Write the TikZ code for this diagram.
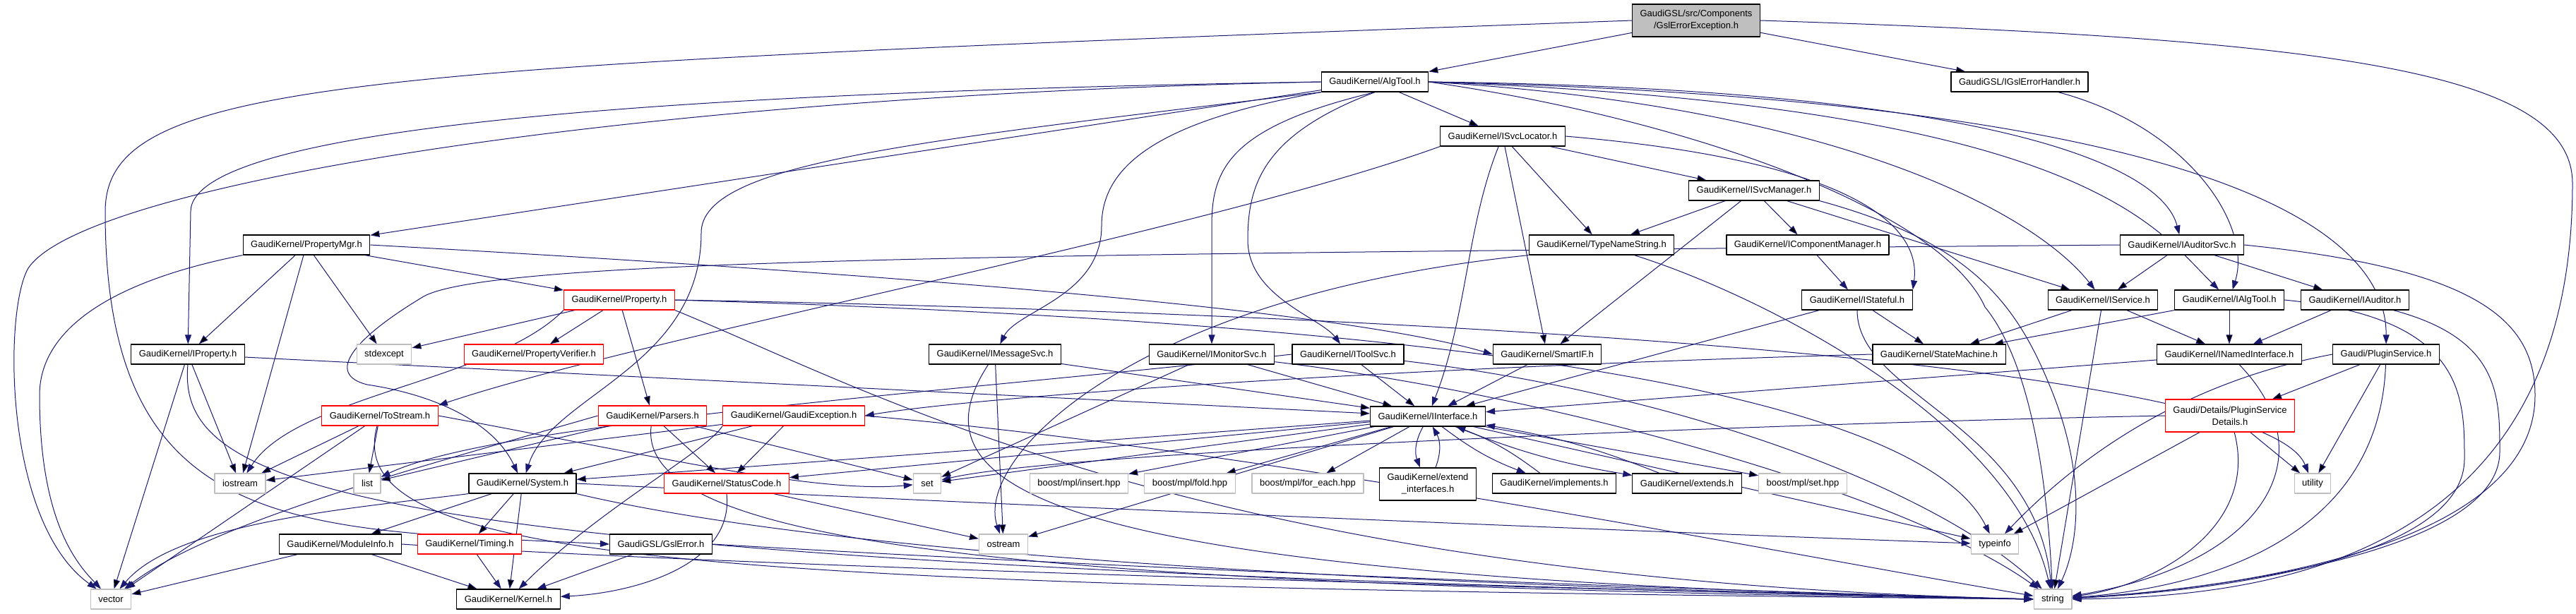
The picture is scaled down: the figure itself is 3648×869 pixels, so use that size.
\documentclass[tikz,border=0pt]{standalone}
\usepackage{fontspec}
\setmainfont{Liberation Sans}
\usetikzlibrary{arrows.meta,backgrounds}
\definecolor{edgeblue}{HTML}{191970}
\definecolor{boxgray}{HTML}{BFBFBF}
\begin{document}
\begin{tikzpicture}[x=.5pt,y=-.5pt,line join=round,font=\fontsize{6.5}{8.5}\selectfont,
  hfile/.style={draw=black,fill=white,line width=.6pt,minimum height=14pt,inner xsep=5.5pt,inner ysep=0pt},
  hfiletwo/.style={hfile,minimum height=23pt,align=center},
  redfile/.style={hfile,draw=red},
  sysfile/.style={hfile,draw=boxgray},
  dep/.style={draw=edgeblue,line width=.5pt,-{Triangle[length=6.5pt,width=4.5pt]}}]
\useasboundingbox (0,0) rectangle (3648,869);
% rows of header files
\node[hfiletwo,fill=boxgray] (top) at (2402,29) {GaudiGSL/src/Components\\/GslErrorException.h};
\node[hfile] (algtool) at (1947,116) {GaudiKernel/AlgTool.h};
\node[hfile] (gslhandler) at (2860,116) {GaudiGSL/IGslErrorHandler.h};
\node[hfile] (svcloc) at (2128,193) {GaudiKernel/ISvcLocator.h};
\node[hfile] (svcmgr) at (2484,270) {GaudiKernel/ISvcManager.h};
\node[hfile] (propmgr) at (434,347) {GaudiKernel/PropertyMgr.h};
\node[hfile] (typename) at (2268,347) {GaudiKernel/TypeNameString.h};
\node[hfile] (compmgr) at (2560,347) {GaudiKernel/IComponentManager.h};
\node[hfile] (audsvc) at (3090,347) {GaudiKernel/IAuditorSvc.h};
\node[redfile] (property) at (877,425) {GaudiKernel/Property.h};
\node[hfile] (stateful) at (2630,425) {GaudiKernel/IStateful.h};
\node[hfile] (iservice) at (2978,425) {GaudiKernel/IService.h};
\node[hfile] (ialgtool) at (3157,425) {GaudiKernel/IAlgTool.h};
\node[hfile] (iauditor) at (3335,425) {GaudiKernel/IAuditor.h};
\node[hfile] (iproperty) at (266,502) {GaudiKernel/IProperty.h};
\node[sysfile] (stdexcept) at (544,502) {stdexcept};
\node[redfile] (verifier) at (756,502) {GaudiKernel/PropertyVerifier.h};
\node[hfile] (msgsvc) at (1409,502) {GaudiKernel/IMessageSvc.h};
\node[hfile] (monsvc) at (1716,502) {GaudiKernel/IMonitorSvc.h};
\node[hfile] (toolsvc) at (1909,502) {GaudiKernel/IToolSvc.h};
\node[hfile] (smartif) at (2191,502) {GaudiKernel/SmartIF.h};
\node[hfile] (statemach) at (2746,502) {GaudiKernel/StateMachine.h};
\node[hfile] (named) at (3157,502) {GaudiKernel/INamedInterface.h};
\node[hfile] (plugin) at (3379,502) {Gaudi/PluginService.h};
\node[redfile] (tostream) at (538,589) {GaudiKernel/ToStream.h};
\node[redfile] (parsers) at (924,589) {GaudiKernel/Parsers.h};
\node[redfile] (gexcept) at (1124,589) {GaudiKernel/GaudiException.h};
\node[hfile] (iiface) at (2022,590) {GaudiKernel/IInterface.h};
\node[hfiletwo,draw=red] (details) at (3158,589) {Gaudi/Details/PluginService\\Details.h};
\node[sysfile] (iostream) at (340,685) {iostream};
\node[sysfile] (list) at (520,685) {list};
\node[hfile] (system) at (740,685) {GaudiKernel/System.h};
\node[redfile] (status) at (1029,685) {GaudiKernel/StatusCode.h};
\node[sysfile] (set) at (1313,685) {set};
\node[sysfile] (insert) at (1528,685) {boost/mpl/insert.hpp};
\node[sysfile] (fold) at (1685,685) {boost/mpl/fold.hpp};
\node[sysfile] (foreach) at (1852,685) {boost/mpl/for\_each.hpp};
\node[hfiletwo] (extendif) at (2022,686) {GaudiKernel/extend\\\_interfaces.h};
\node[hfile] (implements) at (2201,685) {GaudiKernel/implements.h};
\node[hfile] (extends) at (2389,685) {GaudiKernel/extends.h};
\node[sysfile] (mplset) at (2553,685) {boost/mpl/set.hpp};
\node[sysfile] (utility) at (3275,685) {utility};
\node[hfile] (modinfo) at (482,771) {GaudiKernel/ModuleInfo.h};
\node[redfile] (timing) at (665,771) {GaudiKernel/Timing.h};
\node[hfile] (gslerror) at (936,771) {GaudiGSL/GslError.h};
\node[sysfile] (ostream) at (1421,771) {ostream};
\node[sysfile] (typeinfo) at (2825,771) {typeinfo};
\node[sysfile] (vector) at (157,849) {vector};
\node[hfile] (kernel) at (720,849) {GaudiKernel/Kernel.h};
\node[sysfile] (string) at (2907,849) {string};
\begin{pgfonlayer}{background}
% top file
\draw[dep] (top) edge (algtool) edge (gslhandler);
\draw[dep] (top.west) .. controls (500,95) and (149,110) .. (149,300) .. controls (149,760) and (420,750) .. (gslerror.west);
\draw[dep] (top.east) .. controls (3300,55) and (3643,100) .. (3643,260) .. controls (3643,800) and (3200,845) .. (string.east);
% AlgTool.h
\draw[dep] (algtool) edge (svcloc) edge (propmgr);
\draw[dep] (algtool.west) .. controls (1000,130) and (270,175) .. (270,300) -- (iproperty);
\draw[dep] (algtool.west) .. controls (900,135) and (120,260) .. (40,380) .. controls (5,440) and (5,740) .. (vector);
\draw[dep] (algtool.south west) .. controls (1300,200) and (993,230) .. (993,330) .. controls (993,520) and (780,560) .. (system);
\draw[dep] (algtool.south west) .. controls (1650,170) and (1560,230) .. (1560,320) .. controls (1560,420) and (1440,440) .. (msgsvc);
\draw[dep] (algtool.south) .. controls (1740,180) and (1716,240) .. (1716,320) -- (monsvc);
\draw[dep] (algtool.south) .. controls (1790,190) and (1767,260) .. (1767,340) .. controls (1767,420) and (1870,450) .. (toolsvc);
\draw[dep] (algtool.east) .. controls (2600,150) and (2880,300) .. (iservice);
\draw[dep] (algtool.east) .. controls (2800,125) and (3060,230) .. (audsvc);
\draw[dep] (algtool.east) .. controls (2950,150) and (3050,320) .. (ialgtool);
\draw[dep] (algtool.east) .. controls (3050,140) and (3380,300) .. (plugin);
\draw[dep] (algtool.east) .. controls (2400,170) and (2750,300) .. (2811,435) .. controls (2880,520) and (2900,700) .. (string);
\draw[dep] (gslhandler) .. controls (3100,180) and (3190,320) .. (ialgtool);
% ISvcLocator.h, ISvcManager.h
\draw[dep] (svcloc) edge (svcmgr) edge (typename) edge (smartif);
\draw[dep] (svcloc) .. controls (2077,320) and (2077,450) .. (iiface);
\draw[dep] (svcloc.east) .. controls (2650,230) and (2720,330) .. (stateful.north east);
\draw[dep] (svcloc.south west) .. controls (1700,330) and (900,480) .. (tostream.north east);
\draw[dep] (svcmgr) edge (compmgr) edge (typename) edge (smartif) edge (iservice);
\draw[dep] (svcmgr.south east) .. controls (2780,340) and (2850,420) .. (2900,540) .. controls (2960,680) and (2940,780) .. (string);
% PropertyMgr.h, TypeNameString.h
\draw[dep] (propmgr) edge (property) edge (iproperty) edge (iostream) edge (stdexcept);
\draw[dep] (propmgr.south west) .. controls (150,400) and (56,470) .. (56,560) .. controls (56,740) and (110,800) .. (vector);
\draw[dep] (propmgr.east) .. controls (1300,390) and (1900,440) .. (smartif.west);
\draw[dep] (typename.south west) .. controls (1600,420) and (1380,650) .. (ostream);
\draw[dep] (typename) .. controls (2500,420) and (2850,600) .. (string);
\draw[dep] (compmgr) -- (stateful);
% IAuditorSvc.h
\draw[dep] (audsvc) edge (iservice) edge (iauditor);
\draw[dep] (audsvc.west) .. controls (1500,360) and (700,365) .. (600,420) .. controls (500,480) and (460,530) .. (520,545) .. controls (620,560) and (700,600) .. (system);
\draw[dep] (audsvc.east) .. controls (3500,380) and (3590,450) .. (3590,560) .. controls (3590,780) and (3150,835) .. (string);
% Property.h
\draw[dep] (property) edge (verifier) edge (parsers) edge (stdexcept);
\draw[dep] (property.south west) .. controls (700,540) and (420,560) .. (iostream);
\draw[dep] (property.east) .. controls (1800,440) and (3200,500) .. (utility);
\draw[dep] (property.east) .. controls (1800,450) and (2700,520) .. (typeinfo);
\draw[dep] (property.south east) .. controls (1250,560) and (1700,820) .. (string.west);
% interfaces
\draw[dep] (stateful) edge (statemach) edge (iiface);
\draw[dep] (stateful.south) .. controls (2630,560) and (2880,600) .. (string);
\draw[dep] (iservice) edge (named) edge (statemach) edge (string);
\draw[dep] (ialgtool) edge (named) edge (statemach);
\draw[dep] (ialgtool.east) .. controls (3490,450) and (3490,560) .. (3490,650) .. controls (3490,800) and (3100,840) .. (string);
\draw[dep] (iauditor) -- (named);
\draw[dep] (iauditor) .. controls (3540,480) and (3540,560) .. (3540,640) .. controls (3540,790) and (3100,838) .. (string);
\draw[dep] (iproperty) edge (iostream) edge (vector) edge (iiface);
\draw[dep] (iproperty.south) .. controls (250,700) and (500,800) .. (string.west);
\draw[dep] (msgsvc) edge (iiface) edge (ostream);
\draw[dep] (msgsvc) .. controls (1280,700) and (1500,820) .. (string.west);
\draw[dep] (monsvc) edge (iiface) edge (set);
\draw[dep] (monsvc) .. controls (2200,560) and (2700,700) .. (string);
\draw[dep] (toolsvc) edge (iiface);
\draw[dep] (toolsvc) .. controls (2400,560) and (2750,700) .. (string);
\draw[dep] (toolsvc.west) .. controls (1300,560) and (700,600) .. (list);
\draw[dep] (smartif) -- (iiface);
\draw[dep] (statemach.west) .. controls (2000,520) and (1400,560) .. (gexcept.east);
\draw[dep] (named) -- (iiface);
\draw[dep] (named) .. controls (3300,650) and (3200,800) .. (string);
% PluginService
\draw[dep] (plugin) edge (details) edge (utility);
\draw[dep] (plugin) .. controls (3370,750) and (3150,830) .. (string);
\draw[dep] (plugin.west) .. controls (3100,540) and (2950,640) .. (typeinfo);
\draw[dep] (details) edge (utility) edge (typeinfo);
\draw[dep] (details) .. controls (3200,750) and (3050,830) .. (string);
\draw[dep] (details.west) .. controls (2500,600) and (1500,640) .. (set);
% ToStream.h, Parsers.h, GaudiException.h
\draw[dep] (tostream) edge (iostream) edge (list) edge (vector);
\draw[dep] (tostream.east) .. controls (900,640) and (1150,700) .. (set);
\draw[dep] (tostream) .. controls (480,800) and (1000,830) .. (string.west);
\draw[dep] (parsers) edge (status) edge (list) edge (set);
\draw[dep] (parsers) .. controls (900,780) and (1500,830) .. (string.west);
\draw[dep] (parsers.west) .. controls (600,660) and (300,740) .. (vector);
\draw[dep] (gexcept) edge (system) edge (status) edge (iostream);
\draw[dep] (gexcept.south west) .. controls (1000,640) and (850,720) .. (kernel);
\draw[dep] (gexcept.east) .. controls (1800,640) and (2500,780) .. (string);
% IInterface.h
\draw[dep] (iiface) edge (insert) edge (fold) edge (foreach) edge (mplset) edge (typeinfo) edge (set) edge (status) edge (system) edge (ostream);
\draw[dep] (iiface) to[bend right=25] (extendif);
\draw[dep] (extendif) to[bend right=25] (iiface);
\draw[dep] (iiface) to[bend right=8] (implements);
\draw[dep] (implements) to[bend right=8] (iiface);
\draw[dep] (iiface) to[bend right=6] (extends);
\draw[dep] (extends) to[bend right=6] (iiface);
% System.h and below
\draw[dep] (system) edge (modinfo) edge (timing) edge (kernel);
\draw[dep] (system.south west) .. controls (500,720) and (250,740) .. (vector);
\draw[dep] (system.east) .. controls (1500,720) and (2500,760) .. (typeinfo);
\draw[dep] (system.south east) .. controls (1200,790) and (2000,830) .. (string.west);
\draw[dep] (status) edge (ostream);
\draw[dep] (status.south) .. controls (1040,800) and (900,840) .. (kernel);
\draw[dep] (modinfo) edge (vector) edge (kernel);
\draw[dep] (modinfo.east) .. controls (1000,800) and (2000,830) .. (string.west);
\draw[dep] (timing) -- (kernel);
\draw[dep] (gslerror) -- (kernel);
\draw[dep] (gslerror.east) .. controls (1500,800) and (2200,830) .. (string.west);
\end{pgfonlayer}
\end{tikzpicture}
\end{document}
